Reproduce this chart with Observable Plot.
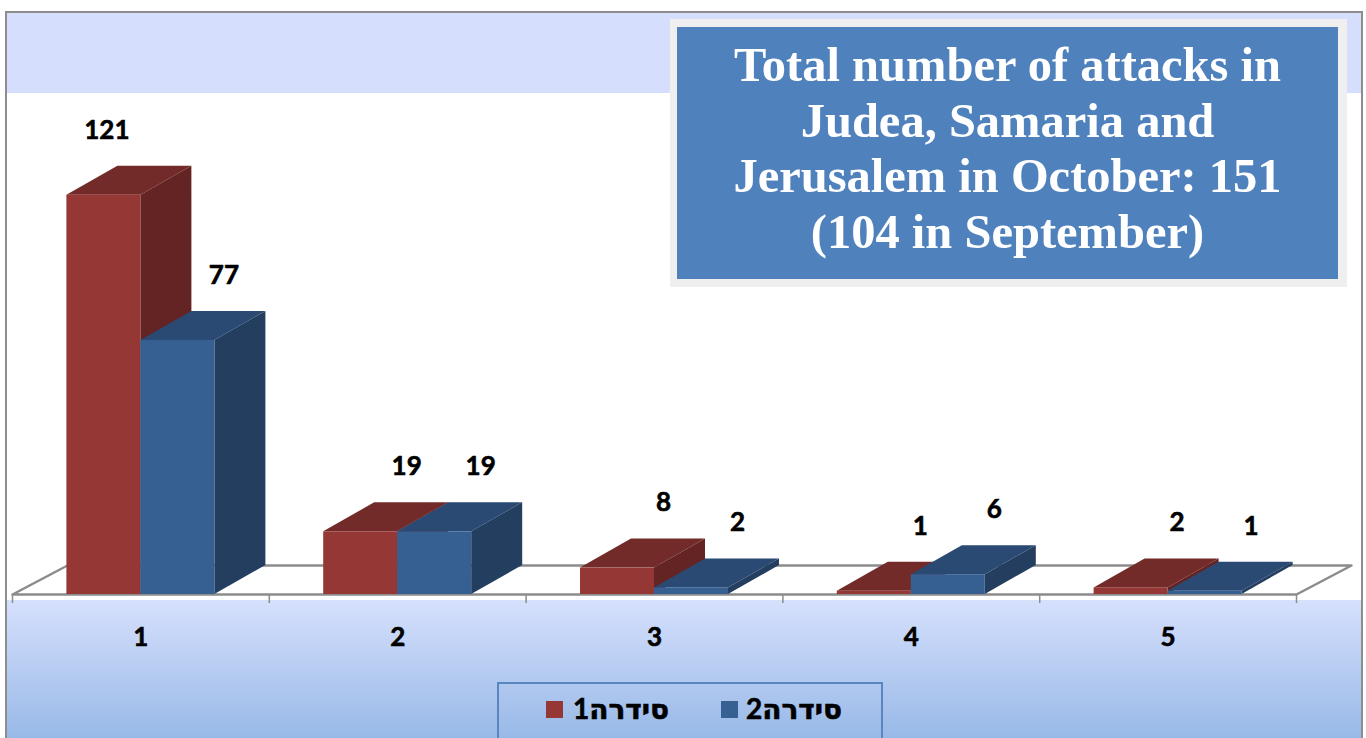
<!DOCTYPE html>
<html>
<head>
<meta charset="utf-8">
<script src="https://cdn.jsdelivr.net/npm/d3@7"></script>
<script src="https://cdn.jsdelivr.net/npm/@observablehq/plot@0.6"></script>
<style>
html,body{margin:0;padding:0;background:#fff;width:1366px;height:738px;overflow:hidden}
#wrap{position:relative;width:1366px;height:738px;font-family:Lato,"DejaVu Sans",sans-serif}
#frame{position:absolute;left:5px;top:11px;width:1358px;height:740px;border:2px solid #8d8d8d;box-sizing:border-box}
#topband{position:absolute;left:7px;top:13px;width:1354px;height:80px;background:#d5dffd}
#botband{position:absolute;left:7px;top:600px;width:1354px;height:138px;background:linear-gradient(#d6e0fd,#98b9e7)}
#titleOuter{position:absolute;left:670px;top:19px;width:677px;height:268px;background:#efefef}
#titleInner{position:absolute;left:677px;top:27px;width:661px;height:252px;padding-top:10px;box-sizing:border-box;background:#4f81bd;color:#fff;font-family:"Liberation Serif","Times New Roman",serif;font-weight:bold;font-size:48.5px;line-height:55.5px;text-align:center}
#chart{position:absolute;left:0;top:0}
#legend{position:absolute;left:497px;top:682px;width:386px;height:62px;border:2px solid #5a86c0;box-sizing:border-box}
.sw{position:absolute;width:17px;height:17px;top:17px}
.lt{position:absolute;top:7px;font-size:28px;font-weight:bold;line-height:34px;color:#000;-webkit-text-stroke:0.6px #000;font-family:Lato,"DejaVu Sans",sans-serif}
</style>
</head>
<body>
<div id="wrap">
  <div id="frame"></div>
  <div id="topband"></div>
  <div id="botband"></div>
  <div id="chart"></div>
  <div id="titleOuter"></div>
  <div id="titleInner"></div>
  <div id="legend"></div>
</div>
<script>
// ---- data ----
const categories = [1, 2, 3, 4, 5];
const series1 = [121, 19, 8, 1, 2];
const series2 = [77, 19, 2, 6, 1];
const seriesNames = ["סידרה1", "סידרה2"];
const titleLines = [
  "Total number of attacks in",
  "Judea, Samaria and",
  "Jerusalem in October: 151",
  "(104 in September)"
];

// ---- styles ----
const frontColors = ["#953735", "#376092"];
const topColors = ["#722b29", "#2a4a73"];
const sideColors = ["#632423", "#243e60"];
const floorColor = "#8c8c8c";

// ---- layout ----
const W = 1366, H = 738;
const mL = 12, mR = 70, mT = 132, mB = 144;
const xDomain = [categories[0] - 0.5, categories[categories.length - 1] + 0.5];
const yDomain = [0, 140];
const pxX = (W - mL - mR) / (xDomain[1] - xDomain[0]);
const pxY = (H - mT - mB) / (yDomain[1] - yDomain[0]);
const barW = 74 / pxX;
const depX = 51 / pxX, depY = 29 / pxY;
const floorX = 55 / pxX;

const seriesValues = [series1, series2];
const bars = [];
seriesValues.forEach((vals, s) => {
  vals.forEach((v, i) => {
    const c = categories[i];
    const x0 = c - barW + s * barW;
    bars.push({s, c, v, x0, x1: x0 + barW, id: s + "-" + c});
  });
});

function topFace(b) {
  return [
    {id: b.id, x: b.x0, y1: b.v, y2: b.v},
    {id: b.id, x: b.x0 + depX, y1: b.v, y2: b.v + depY},
    {id: b.id, x: b.x1, y1: b.v, y2: b.v + depY},
    {id: b.id, x: b.x1 + depX, y1: b.v + depY, y2: b.v + depY}
  ];
}
function sideFace(b) {
  return [
    {id: b.id, x: b.x1, y1: 0, y2: b.v},
    {id: b.id, x: b.x1 + depX, y1: depY, y2: b.v + depY}
  ];
}

const floor = [
  {x: xDomain[0], y: 0}, {x: xDomain[1], y: 0},
  {x: xDomain[1] + floorX, y: depY}, {x: xDomain[0] + floorX, y: depY},
  {x: xDomain[0], y: 0}
];
const bounds = categories.map(c => c - 0.5).concat([xDomain[1]]);
const maxV = d3.max(bars, d => d.v);

const marks = [
  Plot.line(floor, {x: "x", y: "y", stroke: floorColor, strokeWidth: 2.5}),
  Plot.ruleX(bounds, {x: d => d, y1: 0, y2: -9 / pxY, stroke: floorColor, strokeWidth: 1.5})
];
[0, 1].forEach(s => {
  const bs = bars.filter(b => b.s === s);
  marks.push(
    Plot.area(bs.flatMap(topFace), {x1: "x", y1: "y1", y2: "y2", z: "id", fill: topColors[s], curve: "linear"}),
    Plot.area(bs.flatMap(sideFace), {x1: "x", y1: "y1", y2: "y2", z: "id", fill: sideColors[s], curve: "linear"}),
    Plot.rect(bs, {x1: "x0", x2: "x1", y1: 0, y2: "v", fill: frontColors[s]})
  );
});
const labelStyle = {fontSize: 26, fontWeight: "bold", fill: "#000", stroke: "#000", strokeWidth: 0.6};
marks.push(
  Plot.text(bars.filter(b => b.v !== maxV), {x: d => (d.x0 + d.x1) / 2, y: "v", text: d => String(d.v), dx: 46, dy: -65, ...labelStyle}),
  Plot.text(bars.filter(b => b.v === maxV), {x: d => (d.x0 + d.x1) / 2, y: "v", text: d => String(d.v), dx: 3, dy: -65, ...labelStyle}),
  Plot.text(categories, {x: d => d, y: 0, text: d => String(d), dy: 43, ...labelStyle})
);

const chart = Plot.plot({
  width: W, height: H,
  marginLeft: mL, marginRight: mR, marginTop: mT, marginBottom: mB,
  x: {domain: xDomain, axis: null},
  y: {domain: yDomain, axis: null},
  style: {background: "transparent", fontFamily: "Lato, 'DejaVu Sans', sans-serif", overflow: "visible"},
  marks
});
document.getElementById("chart").appendChild(chart);

// title
document.getElementById("titleInner").innerHTML = titleLines.map(t => `<div>${t}</div>`).join("");

// legend
const legend = document.getElementById("legend");
const swX = [47, 222], txtX = [74, 247];
seriesNames.forEach((name, s) => {
  const sw = document.createElement("div");
  sw.className = "sw";
  sw.style.left = swX[s] + "px";
  sw.style.background = frontColors[s];
  legend.appendChild(sw);
  const t = document.createElement("span");
  t.className = "lt";
  t.dir = "rtl";
  t.style.left = txtX[s] + "px";
  t.textContent = name;
  legend.appendChild(t);
});
</script>
</body>
</html>
